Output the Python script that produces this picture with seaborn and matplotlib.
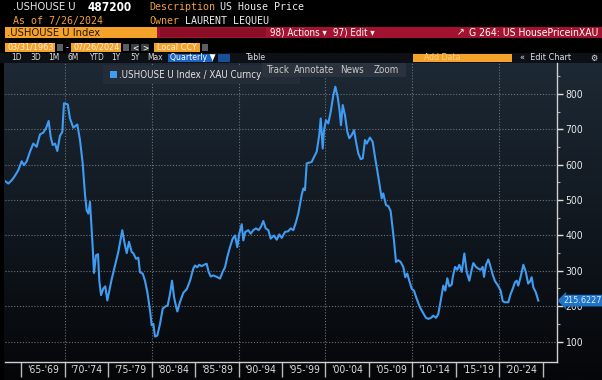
import numpy as np
import pandas as pd
import matplotlib
matplotlib.use("Agg")
import matplotlib.pyplot as plt
import matplotlib.transforms as mtransforms
from matplotlib.patches import Rectangle
from matplotlib.colors import LinearSegmentedColormap
import seaborn as sns

# ---------------- data ----------------
years = [
    1963.16, 1963.54, 1963.93, 1964.31, 1964.69, 1965.08, 1965.34, 1965.66, 1966.03, 1966.41,
    1966.80, 1967.18, 1967.56, 1967.87, 1968.18, 1968.41, 1968.64, 1968.91, 1969.17, 1969.48,
    1969.75, 1969.94, 1970.37, 1970.63, 1971.01, 1971.47, 1971.78, 1972.09, 1972.36, 1972.55,
    1972.74, 1972.93, 1973.24, 1973.39, 1973.62, 1973.85, 1974.00, 1974.20, 1974.46, 1974.69,
    1974.92, 1975.15, 1975.43, 1975.80, 1976.18, 1976.64, 1976.95, 1977.15, 1977.41, 1977.72,
    1977.91, 1978.22, 1978.48, 1978.68, 1978.99, 1979.25, 1979.52, 1979.83, 1980.02, 1980.21,
    1980.40, 1980.67, 1980.98, 1981.29, 1981.59, 1981.86, 1982.13, 1982.36, 1982.59, 1982.82,
    1982.97, 1983.28, 1983.66, 1984.05, 1984.43, 1984.80, 1985.00, 1985.26, 1985.49, 1985.77,
    1986.03, 1986.34, 1986.57, 1986.80, 1987.10, 1987.49, 1987.87, 1988.18, 1988.45, 1988.71,
    1989.02, 1989.33, 1989.60, 1989.86, 1990.09, 1990.37, 1990.55, 1990.78, 1991.13, 1991.40,
    1991.70, 1992.01, 1992.32, 1992.59, 1992.85, 1993.13, 1993.43, 1993.70, 1994.08, 1994.39,
    1994.69, 1994.97, 1995.34, 1995.72, 1996.00, 1996.30, 1996.61, 1996.87, 1997.26, 1997.45,
    1997.64, 1997.84, 1998.14, 1998.41, 1998.68, 1998.99, 1999.29, 1999.45, 1999.68, 1999.83,
    2000.06, 2000.32, 2000.60, 2000.90, 2001.13, 2001.40, 2001.59, 2001.78, 2001.98, 2002.24,
    2002.51, 2002.74, 2003.01, 2003.28, 2003.51, 2003.77, 2004.05, 2004.28, 2004.54, 2004.74,
    2005.11, 2005.42, 2005.69, 2006.07, 2006.46, 2006.64, 2006.95, 2007.22, 2007.49, 2007.61,
    2007.87, 2008.10, 2008.37, 2008.64, 2008.94, 2009.17, 2009.40, 2009.63, 2009.91, 2010.17,
    2010.48, 2010.86, 2011.24, 2011.55, 2011.82, 2012.13, 2012.39, 2012.70, 2012.97, 2013.24,
    2013.54, 2013.77, 2014.00, 2014.23, 2014.51, 2014.62, 2014.89, 2015.15, 2015.38, 2015.66,
    2015.96, 2016.23, 2016.53, 2016.80, 2016.99, 2017.30, 2017.57, 2017.84, 2018.07, 2018.22,
    2018.45, 2018.71, 2018.91, 2019.22, 2019.48, 2019.86, 2020.14, 2020.37, 2020.63, 2021.01,
    2021.29, 2021.52, 2021.78, 2021.98, 2022.16, 2022.44, 2022.74, 2023.02, 2023.29, 2023.51,
    2023.70, 2023.89, 2024.16, 2024.46,
]
values = [
    554, 547, 556, 569, 585, 610, 599, 610, 637, 660,
    651, 686, 691, 703, 724, 679, 656, 660, 639, 682,
    693, 774, 771, 731, 705, 714, 670, 604, 514, 471,
    462, 495, 367, 294, 344, 347, 272, 231, 250, 256,
    216, 244, 277, 315, 353, 415, 372, 350, 382, 353,
    350, 334, 337, 296, 292, 272, 240, 188, 146, 150,
    114, 117, 150, 193, 199, 202, 235, 272, 226, 199,
    185, 212, 238, 248, 272, 306, 315, 310, 317, 313,
    317, 320, 297, 284, 287, 283, 278, 297, 310, 339,
    367, 391, 400, 367, 405, 432, 386, 410, 415, 405,
    415, 420, 415, 425, 441, 420, 415, 391, 400, 388,
    403, 393, 410, 412, 420, 415, 438, 462, 514, 533,
    528, 604, 606, 608, 622, 637, 686, 731, 646, 698,
    726, 717, 750, 797, 821, 792, 759, 712, 769, 740,
    693, 675, 684, 698, 665, 632, 616, 618, 670, 660,
    677, 665, 622, 566, 505, 519, 486, 483, 469, 443,
    386, 325, 330, 325, 311, 282, 292, 272, 249, 244,
    221, 197, 180, 167, 164, 167, 173, 167, 178, 215,
    258, 244, 279, 256, 261, 281, 311, 303, 317, 297,
    349, 297, 272, 303, 322, 311, 306, 303, 311, 283,
    317, 332, 317, 289, 271, 257, 243, 214, 211, 211,
    235, 249, 268, 272, 258, 284, 317, 297, 264, 270,
    282, 253, 240, 215.6227,
]
last_value_label = "215.6227"
y_ticks = [100, 200, 300, 400, 500, 600, 700, 800]
y_minor_ticks = [150, 250, 350, 450, 550, 650, 750, 850]
x_bounds = [1965, 1970, 1975, 1980, 1985, 1990, 1995, 2000, 2005, 2010, 2015, 2020, 2025]
x_grid = [1970, 1980, 1990, 2000, 2010, 2020]
x_period_labels = ["'65-'69", "'70-'74", "'75-'79", "'80-'84", "'85-'89", "'90-'94",
                   "'95-'99", "'00-'04", "'05-'09", "'10-'14", "'15-'19", "'20-'24"]

df = pd.DataFrame({"year": years, "value": values})

# ---------------- figure ----------------
W, H = 602, 380
fig = plt.figure(figsize=(W / 100, H / 100), dpi=100, facecolor="black")
NARROW = ["DejaVu Sans"]
MONO = ["DejaVu Sans Mono", "DejaVu Sans"]


def fx(x):
    return x / W


def fy(y):
    return 1 - y / H


def rect(x0, y0, x1, y1, color, z=2, **kw):
    fig.add_artist(Rectangle((fx(x0), fy(y1)), (x1 - x0) / W, (y1 - y0) / H,
                             transform=fig.transFigure, facecolor=color,
                             edgecolor=kw.pop("ec", "none"), zorder=z, **kw))


def text(x, y, s, color="white", size=7, family=NARROW, z=5, ha="left",
         stretch="condensed", **kw):
    fig.text(fx(x), fy(y), s, color=color, fontsize=size, family=family,
             va="center", ha=ha, zorder=z, fontstretch=stretch, **kw)


# chart background gradient
bg = fig.add_axes([fx(4), 0, 1 - fx(4), fy(63)])
cmap = LinearSegmentedColormap.from_list("bb", ["#1d2934", "#111820", "#050608"])
bg.imshow(np.linspace(0, 1, 256).reshape(-1, 1), aspect="auto", cmap=cmap,
          extent=[0, 1, 0, 1], origin="upper")
bg.set_axis_off()
bg.set_zorder(0)

# ---------------- main plot ----------------
ax = fig.add_axes([fx(5), fy(362), 552 / W, (362 - 63) / H])
ax.set_zorder(1)
ax.patch.set_visible(False)

sns.lineplot(data=df, x="year", y="value", ax=ax, color="#3f9cf2", linewidth=1.5)

ax.set_xlim(1963.16, 2026.61)
ax.set_ylim(42, 888)
ax.set_xlabel("")
ax.set_ylabel("")

for s in ["left", "top"]:
    ax.spines[s].set_visible(False)
for s in ["right", "bottom"]:
    ax.spines[s].set_color("#cfcfcf")
    ax.spines[s].set_linewidth(1.0)

ax.yaxis.tick_right()
ax.set_yticks(y_ticks)
ax.set_yticks(y_minor_ticks, minor=True)
ax.tick_params(axis="y", which="major", length=4, width=1, color="#dddddd",
               pad=2, labelsize=7.5, labelcolor="#e8e8e8")
ax.tick_params(axis="y", which="minor", length=2, width=0.8, color="#aaaaaa")
for lab in ax.get_yticklabels():
    lab.set_fontstretch("condensed")

ax.set_xticks(x_bounds, labels=[""] * len(x_bounds))
centers = [b + 2.5 for b in x_bounds[:-1]]
ax.set_xticks(centers, minor=True, labels=x_period_labels)
ax.tick_params(axis="x", which="major", length=11, width=1, color="#bbbbbb")
ax.tick_params(axis="x", which="minor", length=0, pad=2.5, labelsize=7.5,
               labelcolor="#dddddd")
for lab in ax.get_xticklabels(minor=True):
    lab.set_fontstretch("condensed")

ax.grid(False)
for yv in y_ticks:
    ax.axhline(yv, color="#6a727c", linestyle=(0, (1, 1.6)), linewidth=0.8, zorder=0)
for xv in x_grid:
    ax.axvline(xv, color="#6a727c", linestyle=(0, (1, 1.6)), linewidth=0.8, zorder=0)

# last value tag
trans = mtransforms.blended_transform_factory(ax.transAxes, ax.transData)
ax.text(1.012, values[-1], last_value_label, transform=trans, ha="left", va="center",
        fontsize=6.5, fontstretch="condensed", color="#d8eeff", clip_on=False, zorder=6,
        bbox=dict(boxstyle="larrow,pad=0.15", fc="#1f74c8", ec="none"))

# legend box + chart buttons
rect(103, 65, 300, 84, "#242d37", z=3)
rect(110, 71, 117, 78, "#3f9cf2", z=4)
text(119, 75, ".USHOUSE U Index / XAU Curncy", color="#e4e4e4", size=7, z=5)
rect(262, 63, 406, 77, "#2c343e", z=4, alpha=0.92)
text(266, 70, "Track", color="#c8c8c8", size=7, z=6)
text(294, 70, "Annotate", color="#c8c8c8", size=7, z=6)
text(340, 70, "News", color="#c8c8c8", size=7, z=6)
text(374, 70, "Zoom", color="#c8c8c8", size=7, z=6)

# ---------------- header ----------------
ORANGE = "#f0a23a"
text(13, 7.5, ".USHOUSE U", color="#ececec", size=8)
text(88, 7.5, "487200", color="white", size=8.5, weight="bold")
text(149, 7.5, "Description", color=ORANGE, size=7.2, family=MONO, stretch="normal")
text(220, 7.5, "US House Price", color="#ececec", size=7.2, family=MONO, stretch="normal")
text(13, 21, "As of 7/26/2024", color=ORANGE, size=7.2, family=MONO, stretch="normal")
text(149, 21, "Owner", color=ORANGE, size=7.2, family=MONO, stretch="normal")
text(185, 21, "LAURENT LEQUEU", color="#ececec", size=7.2, family=MONO, stretch="normal")

# function bar
rect(5, 27, 157, 38, "#f5a22a")
text(7, 32.5, ".USHOUSE U Index", color="#2a1800", size=8)
rect(157, 27, 602, 38, "#a3132f")
rect(160, 28, 266, 37, "#8c0d26", z=3)
text(270, 32.5, "98) Actions \u25be", color="white", size=7)
text(333, 32.5, "97) Edit \u25be", color="white", size=7)
text(457, 32.5, "\u2197", color="white", size=7.5)
text(469, 32.5, "G 264: US HousePriceinXAU", color="white", size=7.5)

# date row
rect(5, 43, 55, 52, "#f5a22a")
text(7, 47.5, "03/31/1963", color="#fff0dc", size=6.5)
rect(57, 44, 63, 51, "#5a5f66")
text(66, 47.5, "-", color="white", size=6.5)
rect(71, 43, 121, 52, "#f5a22a")
text(73, 47.5, "07/26/2024", color="#fff0dc", size=6.5)
rect(123, 44, 129, 51, "#5a5f66")
rect(131, 44, 139, 51, "#3a3f46")
text(135, 47.5, "<", color="white", size=6, ha="center")
rect(141, 44, 149, 51, "#3a3f46")
text(145, 47.5, ">", color="white", size=6, ha="center")
rect(154, 43, 200, 52, "#f5a22a")
text(157, 47.5, "Local CCY", color="#fff0dc", size=6.5)
rect(202, 44, 208, 51, "#5a5f66")

# toolbar row
rect(0, 53, 602, 63, "#0d1014", z=1)
for lbl, xx in zip(["1D", "3D", "1M", "6M", "YTD", "1Y", "5Y", "Max"],
                   [11, 30, 48, 67, 89, 111, 130, 147]):
    text(xx, 58, lbl, color="#e0e0e0", size=6)
rect(168, 54, 213, 62, "#1c62c2")
text(170, 58, "Quarterly \u25bc", color="white", size=6.2)
rect(218, 54, 230, 62, "#1a4e96")
text(245, 58, "Table", color="#e0e0e0", size=6.2)
rect(413, 54, 512, 62, "#f5a22a")
text(424, 58, "Add Data", color="#fbd08a", size=6.2)
text(520, 58, "\u00ab  Edit Chart", color="#e0e0e0", size=6.5)
text(590, 58, "\u2699", color="#e0e0e0", size=6.5)

fig.savefig("out.png", dpi=100, facecolor="black")
